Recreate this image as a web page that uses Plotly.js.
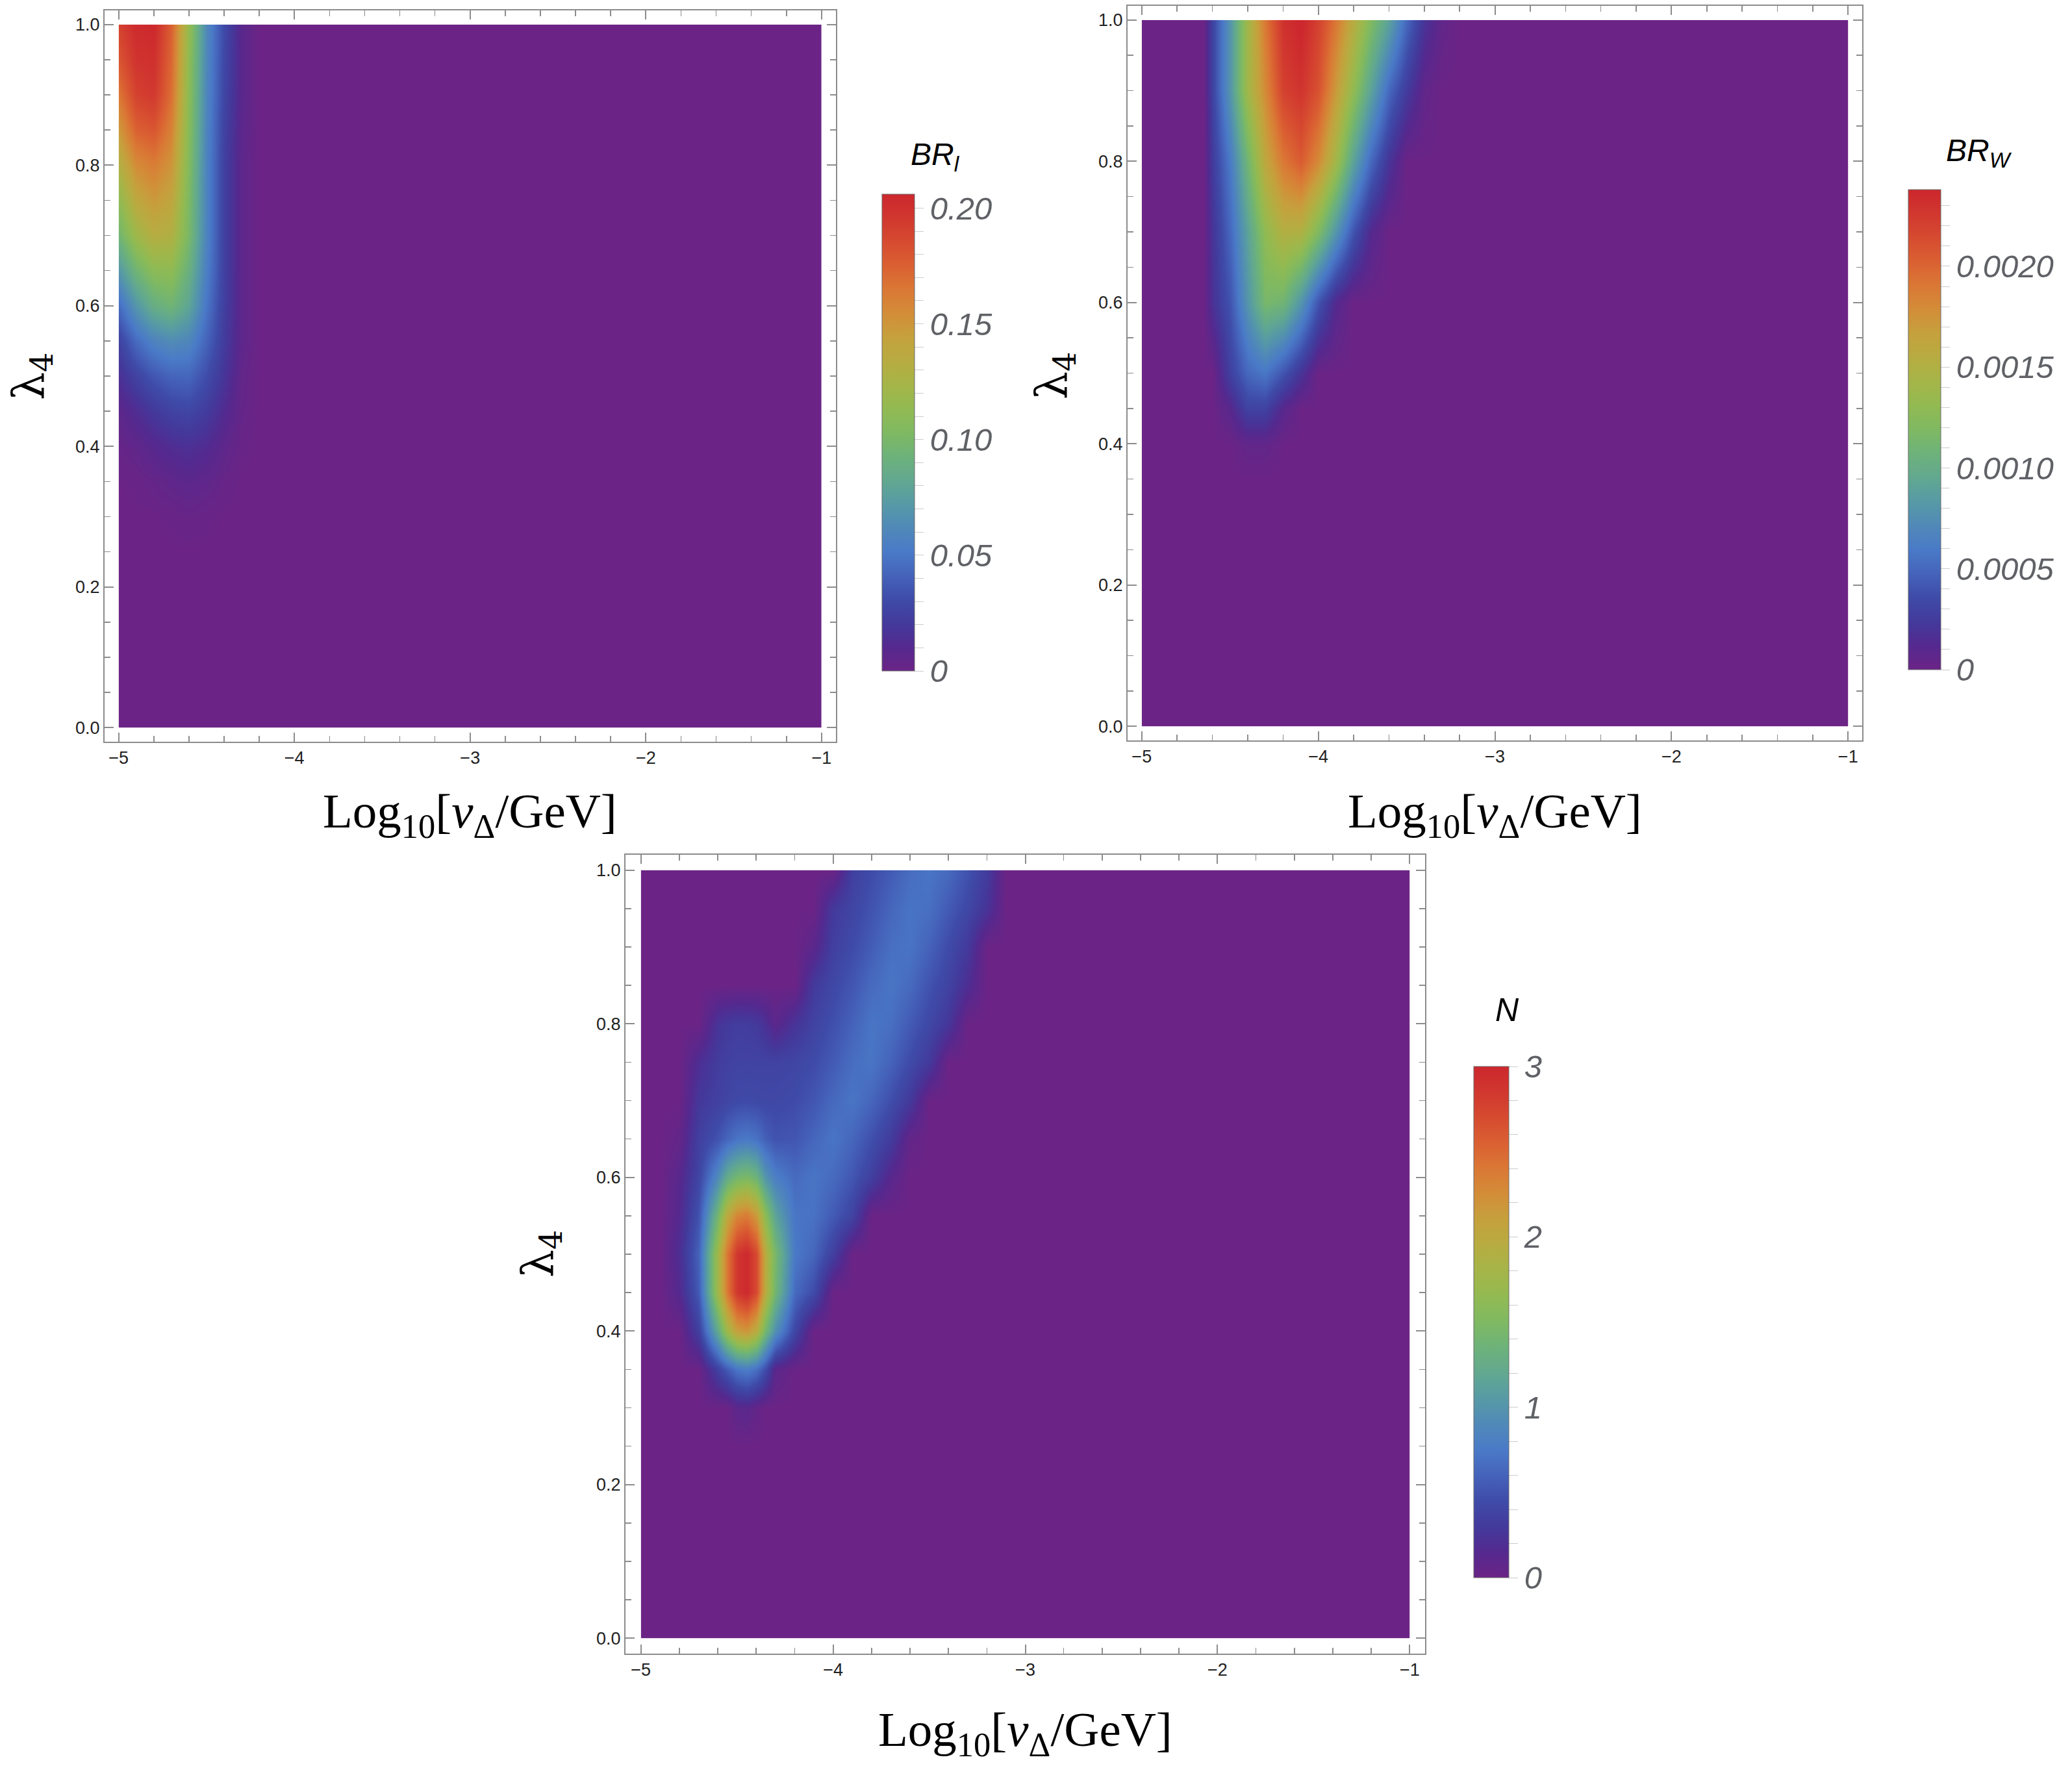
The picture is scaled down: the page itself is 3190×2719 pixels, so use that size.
<!DOCTYPE html>
<html>
<head>
<meta charset="utf-8">
<script src="https://cdn.plot.ly/plotly-3.0.1.min.js"></script>
<style>html,body{margin:0;padding:0;background:#fff;}</style>
</head>
<body>
<div id="chart" style="width:3190px;height:2719px;"></div>
<script>
// ---------------- DATA ----------------
// Panel 1: BR_l over (Log10[v_Delta/GeV], lambda_4)
const logV1 = [-5, -4.9, -4.8, -4.7, -4.6, -4.5, -4.4, -4.3, -4.2, -4.0, -3.0, -2.0, -1.0];
const lam1 = [0, 0.25, 0.3, 0.35, 0.4, 0.45, 0.5, 0.55, 0.6, 0.65, 0.7, 0.75, 0.8, 0.85, 0.9, 0.95, 1.0];
const brL = [
  [0, 0, 0, 0, 0, 0, 0, 0, 0, 0, 0, 0, 0],
  [0, 0, 0, 0, 0, 0, 0, 0, 0, 0, 0, 0, 0],
  [0, 0, 0, 0.001, 0.002, 0.001, 0, 0, 0, 0, 0, 0, 0],
  [0, 0.001, 0.003, 0.005, 0.007, 0.005, 0.002, 0, 0, 0, 0, 0, 0],
  [0.002, 0.005, 0.009, 0.013, 0.015, 0.012, 0.006, 0.001, 0, 0, 0, 0, 0],
  [0.006, 0.013, 0.02, 0.026, 0.028, 0.022, 0.012, 0.003, 0, 0, 0, 0, 0],
  [0.015, 0.026, 0.036, 0.042, 0.043, 0.032, 0.018, 0.004, 0, 0, 0, 0, 0],
  [0.025, 0.045, 0.058, 0.064, 0.06, 0.042, 0.022, 0.006, 0, 0, 0, 0, 0],
  [0.045, 0.07, 0.088, 0.095, 0.08, 0.05, 0.024, 0.006, 0, 0, 0, 0, 0],
  [0.07, 0.095, 0.11, 0.112, 0.09, 0.055, 0.025, 0.006, 0, 0, 0, 0, 0],
  [0.095, 0.12, 0.133, 0.13, 0.1, 0.058, 0.025, 0.006, 0, 0, 0, 0, 0],
  [0.112, 0.138, 0.148, 0.14, 0.102, 0.058, 0.025, 0.006, 0, 0, 0, 0, 0],
  [0.13, 0.155, 0.162, 0.15, 0.105, 0.058, 0.025, 0.006, 0, 0, 0, 0, 0],
  [0.148, 0.175, 0.18, 0.16, 0.108, 0.059, 0.026, 0.007, 0, 0, 0, 0, 0],
  [0.165, 0.19, 0.195, 0.168, 0.11, 0.06, 0.028, 0.008, 0, 0, 0, 0, 0],
  [0.18, 0.198, 0.2, 0.172, 0.112, 0.061, 0.029, 0.008, 0, 0, 0, 0, 0],
  [0.19, 0.203, 0.205, 0.175, 0.115, 0.062, 0.03, 0.008, 0, 0, 0, 0, 0]
];

// Panel 2: BR_W
const logV2 = [-5, -4.65, -4.6, -4.5, -4.4, -4.3, -4.2, -4.1, -4.0, -3.9, -3.8, -3.7, -3.6, -3.5, -3.4, -3.3, -3.2, -3.0, -2.0, -1.0];
const lam2 = [0, 0.35, 0.4, 0.45, 0.5, 0.6, 0.7, 0.8, 0.9, 1.0];
const brW = [
  [0, 0, 0, 0, 0, 0, 0, 0, 0, 0, 0, 0, 0, 0, 0, 0, 0, 0, 0, 0],
  [0, 0, 0, 0, 0, 0, 0, 0, 0, 0, 0, 0, 0, 0, 0, 0, 0, 0, 0, 0],
  [0, 0, 0, 0, 0.00005, 0.00005, 0, 0, 0, 0, 0, 0, 0, 0, 0, 0, 0, 0, 0, 0],
  [0, 0, 0, 0.0001, 0.0003, 0.0003, 0.0001, 0, 0, 0, 0, 0, 0, 0, 0, 0, 0, 0, 0, 0],
  [0, 0, 0, 0.00028, 0.0005, 0.00058, 0.0004, 0.0002, 0, 0, 0, 0, 0, 0, 0, 0, 0, 0, 0, 0],
  [0, 0, 0.00018, 0.0004, 0.0008, 0.00115, 0.0011, 0.0008, 0.0004, 0.00012, 0, 0, 0, 0, 0, 0, 0, 0, 0, 0],
  [0, 0, 0.0002, 0.0005, 0.0009, 0.0013, 0.00152, 0.0015, 0.0012, 0.0008, 0.0004, 0.00012, 0, 0, 0, 0, 0, 0, 0, 0],
  [0, 0, 0.00025, 0.0006, 0.0011, 0.0016, 0.0019, 0.00205, 0.0018, 0.0014, 0.0009, 0.0005, 0.0002, 0, 0, 0, 0, 0, 0, 0],
  [0, 0, 0.0003, 0.0008, 0.0014, 0.0018, 0.0022, 0.00228, 0.0021, 0.0017, 0.0013, 0.0009, 0.0005, 0.00025, 0.00005, 0, 0, 0, 0, 0],
  [0, 0, 0.0003, 0.0008, 0.0014, 0.0019, 0.0023, 0.0024, 0.0022, 0.0019, 0.00155, 0.0012, 0.0009, 0.0005, 0.0002, 0.00005, 0, 0, 0, 0]
];

// Panel 3: N
const logV3 = [-5, -4.9, -4.8, -4.7, -4.6, -4.55, -4.5, -4.45, -4.4, -4.35, -4.3, -4.2, -4.1, -4.0, -3.9, -3.8, -3.7, -3.6, -3.5, -3.4, -3.3, -3.2, -3.1, -3.0, -2.0, -1.0];
const lam3 = [0, 0.25, 0.3, 0.35, 0.4, 0.45, 0.5, 0.55, 0.6, 0.65, 0.7, 0.75, 0.8, 0.85, 0.9, 0.95, 1.0];
const nEv = [
  [0, 0, 0, 0, 0, 0, 0, 0, 0, 0, 0, 0, 0, 0, 0, 0, 0, 0, 0, 0, 0, 0, 0, 0, 0, 0],
  [0, 0, 0, 0, 0, 0, 0, 0, 0, 0, 0, 0, 0, 0, 0, 0, 0, 0, 0, 0, 0, 0, 0, 0, 0, 0],
  [0, 0, 0, 0, 0, 0, 0.1, 0.12, 0.05, 0, 0, 0, 0, 0, 0, 0, 0, 0, 0, 0, 0, 0, 0, 0, 0, 0],
  [0, 0, 0, 0, 0.35, 0.55, 0.72, 0.78, 0.68, 0.45, 0.1, 0, 0, 0, 0, 0, 0, 0, 0, 0, 0, 0, 0, 0, 0, 0],
  [0, 0, 0, 0.35, 1.2, 1.75, 2.1, 2.18, 1.95, 1.4, 0.95, 0.4, 0, 0, 0, 0, 0, 0, 0, 0, 0, 0, 0, 0, 0, 0],
  [0, 0, 0.15, 0.55, 1.75, 2.4, 2.85, 2.97, 2.7, 1.95, 1.4, 0.65, 0.45, 0, 0, 0, 0, 0, 0, 0, 0, 0, 0, 0, 0, 0],
  [0, 0, 0.2, 0.6, 1.75, 2.4, 2.85, 2.97, 2.7, 1.95, 1.45, 0.75, 0.62, 0.35, 0, 0, 0, 0, 0, 0, 0, 0, 0, 0, 0, 0],
  [0, 0, 0.15, 0.5, 1.4, 2.0, 2.3, 2.38, 2.15, 1.6, 1.15, 0.72, 0.7, 0.55, 0.38, 0, 0, 0, 0, 0, 0, 0, 0, 0, 0, 0],
  [0, 0, 0.12, 0.4, 0.9, 1.25, 1.42, 1.48, 1.35, 1.0, 0.8, 0.65, 0.72, 0.65, 0.52, 0.35, 0.12, 0, 0, 0, 0, 0, 0, 0, 0, 0],
  [0, 0, 0.05, 0.35, 0.5, 0.62, 0.72, 0.75, 0.7, 0.58, 0.5, 0.52, 0.62, 0.72, 0.62, 0.48, 0.32, 0.05, 0, 0, 0, 0, 0, 0, 0, 0],
  [0, 0, 0, 0.28, 0.36, 0.4, 0.43, 0.44, 0.43, 0.42, 0.42, 0.45, 0.52, 0.64, 0.72, 0.62, 0.47, 0.3, 0, 0, 0, 0, 0, 0, 0, 0],
  [0, 0, 0, 0.2, 0.32, 0.36, 0.38, 0.38, 0.38, 0.38, 0.38, 0.4, 0.45, 0.55, 0.67, 0.72, 0.6, 0.45, 0.3, 0, 0, 0, 0, 0, 0, 0],
  [0, 0, 0, 0, 0.25, 0.3, 0.33, 0.32, 0.3, 0.22, 0.1, 0.25, 0.38, 0.48, 0.6, 0.72, 0.68, 0.55, 0.42, 0.28, 0, 0, 0, 0, 0, 0],
  [0, 0, 0, 0, 0, 0, 0, 0, 0, 0, 0, 0, 0.3, 0.42, 0.52, 0.65, 0.72, 0.65, 0.5, 0.38, 0.2, 0, 0, 0, 0, 0],
  [0, 0, 0, 0, 0, 0, 0, 0, 0, 0, 0, 0, 0.1, 0.35, 0.45, 0.56, 0.68, 0.71, 0.6, 0.45, 0.3, 0, 0, 0, 0, 0],
  [0, 0, 0, 0, 0, 0, 0, 0, 0, 0, 0, 0, 0, 0.3, 0.4, 0.5, 0.62, 0.71, 0.68, 0.55, 0.42, 0.25, 0, 0, 0, 0],
  [0, 0, 0, 0, 0, 0, 0, 0, 0, 0, 0, 0, 0, 0, 0.35, 0.45, 0.55, 0.66, 0.72, 0.65, 0.5, 0.32, 0, 0, 0, 0]
];

// Colour-bar ranges and tick labelling
const cbMax1 = 0.206, cbMax2 = 0.00238, cbMax3 = 3;
const cbStep1 = 0.01, cbFormat1 = '.2f', cbZero1 = '0.00';
const cbStep2 = 0.0001, cbFormat2 = '.4f', cbZero2 = '0.0000';
const cbStep3 = 0.2, cbFormat3 = '.0f', cbZero3 = '0';

// ---------------- STYLE / LAYOUT ----------------
const W = 3190, H = 2719;
const fx = p => p / W;
const fy = p => 1 - p / H;

const rainbow = [
  [0.00, '#6B2486'], [0.05, '#55298F'], [0.10, '#433A9C'], [0.15, '#3F4BA8'],
  [0.20, '#4563BA'], [0.25, '#4A7AC8'], [0.30, '#5089B8'], [0.35, '#579AA6'],
  [0.40, '#62A890'], [0.45, '#6DB27A'], [0.50, '#7FB962'], [0.55, '#92BA52'],
  [0.60, '#A5B548'], [0.65, '#B7AC41'], [0.70, '#C5A13C'], [0.75, '#D38D38'],
  [0.80, '#DA7835'], [0.85, '#DA6032'], [0.90, '#D64B30'], [0.95, '#D1372F'],
  [1.00, '#CC272D']
];

const frames = [
  {l: 161, r: 1286.5, t: 16, b: 1142},
  {l: 1736, r: 2867, t: 9, b: 1140},
  {l: 963, r: 2194, t: 1316, b: 2546}
];
const bars = [
  {l: 1358, w: 50, t: 299, b: 1033},
  {l: 2938, w: 50, t: 292, b: 1031},
  {l: 2269, w: 54, t: 1642, b: 2429}
];

const frameCol = '#8c8c8c';
const tickFont = {family: 'Liberation Sans, Arial, sans-serif', size: 27, color: '#222222'};

function xAxis(f, anchor) {
  return {
    domain: [fx(f.l), fx(f.r)], anchor: anchor, range: [-5.08, -0.92],
    showline: true, linecolor: frameCol, linewidth: 2, mirror: 'allticks',
    ticks: 'inside', ticklen: 14, tickwidth: 2, tickcolor: frameCol,
    tickmode: 'linear', tick0: -5, dtick: 1,
    minor: {ticks: 'inside', ticklen: 9, tickwidth: 1.5, tickcolor: frameCol, tick0: -5, dtick: 0.2, showgrid: false},
    showgrid: false, zeroline: false, tickfont: tickFont, fixedrange: true
  };
}
function yAxis(f, anchor) {
  return {
    domain: [fy(f.b), fy(f.t)], anchor: anchor, range: [-0.02, 1.02],
    showline: true, linecolor: frameCol, linewidth: 2, mirror: 'allticks',
    ticks: 'inside', ticklen: 14, tickwidth: 2, tickcolor: frameCol,
    tickmode: 'linear', tick0: 0, dtick: 0.2, tickformat: '.1f',
    minor: {ticks: 'inside', ticklen: 9, tickwidth: 1.5, tickcolor: frameCol, tick0: 0, dtick: 0.05, showgrid: false},
    showgrid: false, zeroline: false, tickfont: tickFont, fixedrange: true
  };
}

function colorbar(b, step, fmt, zeroLabel) {
  const alias = {};
  alias[zeroLabel] = '0';
  return {
    x: fx(b.l), xanchor: 'left', xpad: 0,
    y: fy(b.b), yanchor: 'bottom', ypad: 0,
    len: b.b - b.t, lenmode: 'pixels',
    thickness: b.w, thicknessmode: 'pixels',
    outlinewidth: 1, outlinecolor: '#6a6a6a',
    tickmode: 'linear', tick0: 0, dtick: step, ticklabelstep: 5,
    tickformat: fmt, labelalias: alias,
    ticks: 'outside', ticklen: 14, tickwidth: 1, tickcolor: '#cccccc',
    tickfont: {family: 'Liberation Sans, Arial, sans-serif', size: 49, color: '#5f6166', style: 'italic'}
  };
}

function panel(x, y, z, xa, ya, zmax, cb) {
  return {
    type: 'contour', x: x, y: y, z: z, xaxis: xa, yaxis: ya,
    colorscale: rainbow, zauto: false, zmin: 0, zmax: zmax,
    autocontour: false,
    contours: {coloring: 'heatmap', showlines: false, start: 0, end: zmax, size: zmax},
    line: {width: 0}, colorbar: cb, hoverinfo: 'skip'
  };
}

const data = [
  panel(logV1, lam1, brL, 'x', 'y', cbMax1, colorbar(bars[0], cbStep1, cbFormat1, cbZero1)),
  panel(logV2, lam2, brW, 'x2', 'y2', cbMax2, colorbar(bars[1], cbStep2, cbFormat2, cbZero2)),
  panel(logV3, lam3, nEv, 'x3', 'y3', cbMax3, colorbar(bars[2], cbStep3, cbFormat3, cbZero3))
];

const xTitle = 'Log<sub>10</sub>[<i>v</i><sub>Δ</sub>/GeV]';
const yTitle = 'λ<sub>4</sub>';
const serif = 'Liberation Serif, Times New Roman, serif';

function ann(text, x, y, size, family, angle, color) {
  return {text: text, xref: 'paper', yref: 'paper', x: fx(x), y: fy(y),
          xanchor: 'center', yanchor: 'middle', showarrow: false, textangle: angle || 0,
          font: {family: family, size: size, color: color || '#000000'}};
}

const annotations = [
  ann(xTitle, 723, 1254, 75, serif),
  ann(xTitle, 2301, 1254, 75, serif),
  ann(xTitle, 1578, 2668, 75, serif),
  ann(yTitle, 48, 580, 68, 'DejaVu Serif, serif', -90),
  ann(yTitle, 1623, 578, 68, 'DejaVu Serif, serif', -90),
  ann(yTitle, 832, 1931, 68, 'DejaVu Serif, serif', -90),
  ann('<i>BR<sub>l</sub></i>', 1440, 241, 48, 'Liberation Sans, Arial, sans-serif'),
  ann('<i>BR<sub>W</sub></i>', 3047, 235, 48, 'Liberation Sans, Arial, sans-serif'),
  ann('<i>N</i>', 2320, 1555, 50, 'Liberation Sans, Arial, sans-serif')
];

const layout = {
  width: W, height: H,
  margin: {l: 0, r: 0, t: 0, b: 0, pad: 0},
  paper_bgcolor: '#ffffff', plot_bgcolor: '#ffffff',
  showlegend: false,
  xaxis: xAxis(frames[0], 'y'), yaxis: yAxis(frames[0], 'x'),
  xaxis2: xAxis(frames[1], 'y2'), yaxis2: yAxis(frames[1], 'x2'),
  xaxis3: xAxis(frames[2], 'y3'), yaxis3: yAxis(frames[2], 'x3'),
  annotations: annotations
};

Plotly.newPlot('chart', data, layout, {staticPlot: true, displayModeBar: false});
</script>
</body>
</html>
